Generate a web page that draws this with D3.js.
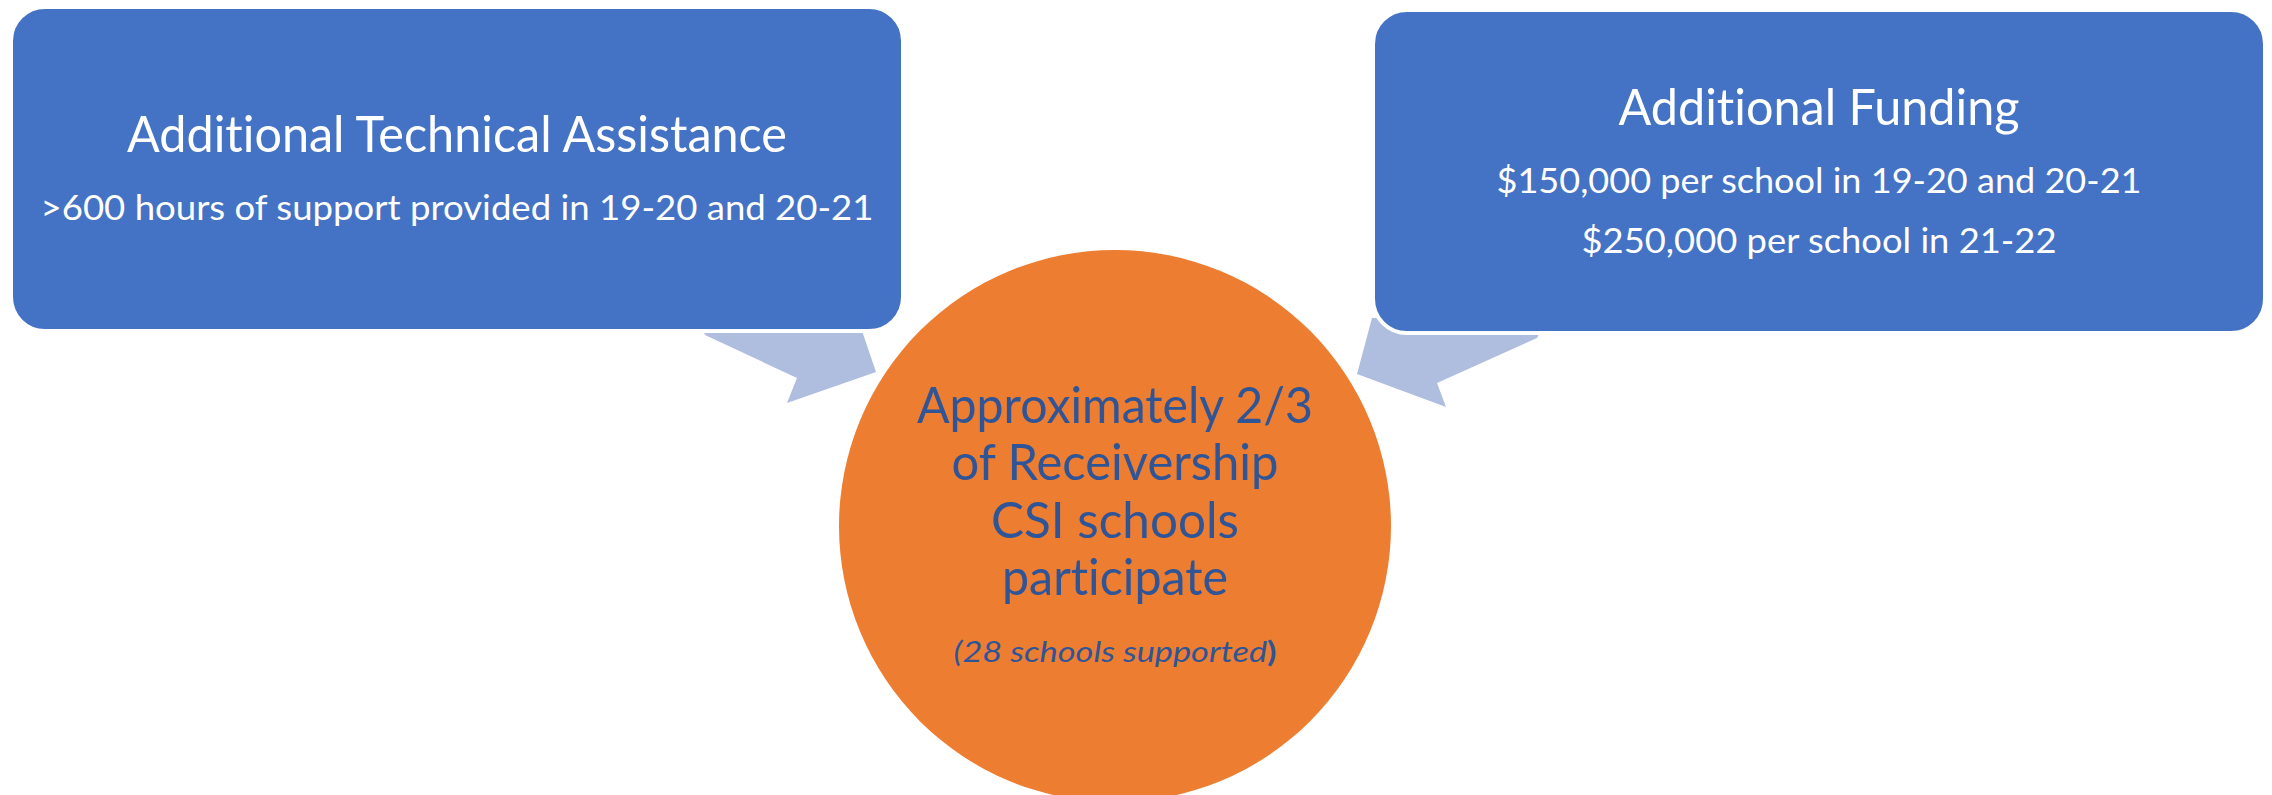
<!DOCTYPE html>
<html>
<head>
<meta charset="utf-8">
<script src="https://cdn.jsdelivr.net/npm/d3@7"></script>
<style>
  html, body { margin: 0; padding: 0; background: #fff; }
  #vis { width: 2272px; height: 795px; overflow: hidden; }
  text { font-family: "Gill Sans", "Gill Sans MT", Lato, "Open Sans", sans-serif; font-variant-ligatures: none; }
</style>
</head>
<body>
<div id="vis"></div>
<script>
// diagram content
var box_titles = ['Additional Technical Assistance', 'Additional Funding'];
var box_lines = [
    ['>600 hours of support provided in 19-20 and 20-21'],
    ['$150,000 per school in 19-20 and 20-21', '$250,000 per school in 21-22']
];
var circle_lines = ['Approximately 2/3', 'of Receivership', 'CSI schools', 'participate'];
var circle_note = '(28 schools supported';

var width = 2272;
var height = 795;

var svg = d3.select('#vis')
    .append('svg')
    .attr('width', width)
    .attr('height', height);

// layout (pixels)
var boxes = [
    { x: 11, y: 7, w: 892, h: 324, titleY: 152, titleW: 660, lineY: [220], lineW: [833] },
    { x: 1373, y: 10, w: 892, h: 323, titleY: 125, titleW: 401, lineY: [193, 253], lineW: [645, 475] }
];
var circle = { cx: 1115, cy: 526, r: 276 };
var circle_y = [423, 480, 538, 595];
var circle_w = [396, 327, 248, 226];

var arrows = [
    [[700, 322], [859, 322], [876, 372], [787, 403], [797, 378], [705, 335]],
    [[1372, 318], [1548, 318], [1537, 338], [1437, 383], [1446, 407], [1357, 374]]
];

var line = d3.line();

// arrows first (they sit under the boxes)
svg.selectAll('.arrow')
    .data(arrows)
    .enter()
    .append('path')
    .attr('class', 'arrow')
    .attr('d', function(d) { return line(d) + 'Z'; })
    .attr('fill', '#AFBDDF');

// circle
svg.append('circle')
    .attr('cx', circle.cx)
    .attr('cy', circle.cy)
    .attr('r', circle.r)
    .attr('fill', '#ED7D31');

svg.selectAll('.circle-line')
    .data(circle_lines)
    .enter()
    .append('text')
    .attr('class', 'circle-line')
    .attr('x', circle.cx)
    .attr('y', function(d, i) { return circle_y[i]; })
    .attr('text-anchor', 'middle')
    .attr('font-size', 51)
    .attr('fill', '#2F5597')
    .attr('textLength', function(d, i) { return circle_w[i]; })
    .attr('lengthAdjust', 'spacingAndGlyphs')
    .text(function(d) { return d; });

var note = svg.append('text')
    .attr('x', circle.cx)
    .attr('y', 662)
    .attr('text-anchor', 'middle')
    .attr('font-size', 29)
    .attr('fill', '#2F5597')
    .attr('textLength', 323)
    .attr('lengthAdjust', 'spacingAndGlyphs');
note.append('tspan')
    .attr('font-style', 'italic')
    .text(circle_note);
note.append('tspan')
    .attr('font-weight', 'bold')
    .text(')');

// boxes
var g = svg.selectAll('.box')
    .data(boxes)
    .enter()
    .append('g')
    .attr('class', 'box');

g.append('rect')
    .attr('x', function(d) { return d.x; })
    .attr('y', function(d) { return d.y; })
    .attr('width', function(d) { return d.w; })
    .attr('height', function(d) { return d.h; })
    .attr('rx', 34)
    .attr('fill', '#4472C4')
    .attr('stroke', '#fff')
    .attr('stroke-width', 4);

g.append('text')
    .attr('x', function(d) { return d.x + d.w / 2; })
    .attr('y', function(d) { return d.titleY; })
    .attr('text-anchor', 'middle')
    .attr('font-size', 51)
    .attr('fill', '#fff')
    .attr('textLength', function(d) { return d.titleW; })
    .attr('lengthAdjust', 'spacingAndGlyphs')
    .text(function(d, i) { return box_titles[i]; });

g.each(function(d, i) {
    d3.select(this).selectAll('.sub')
        .data(box_lines[i])
        .enter()
        .append('text')
        .attr('class', 'sub')
        .attr('x', d.x + d.w / 2)
        .attr('y', function(t, j) { return d.lineY[j]; })
        .attr('text-anchor', 'middle')
        .attr('font-size', 34)
        .attr('fill', '#fff')
        .attr('textLength', function(t, j) { return d.lineW[j]; })
        .attr('lengthAdjust', 'spacingAndGlyphs')
        .text(function(t) { return t; });
});
</script>
</body>
</html>
